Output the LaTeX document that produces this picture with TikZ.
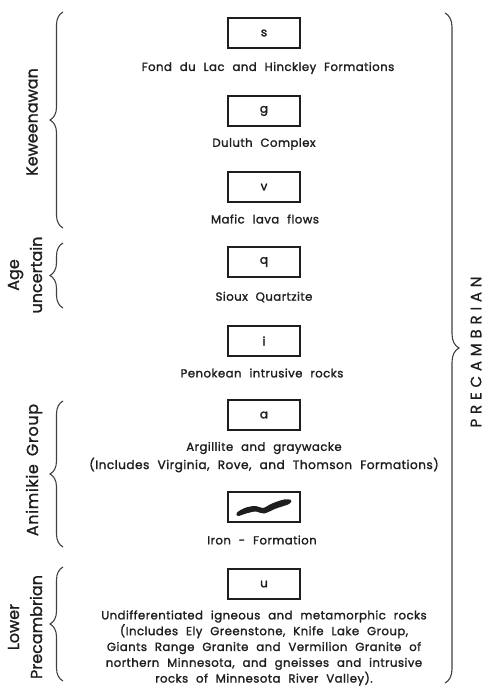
\documentclass[tikz,border=0pt]{standalone}
\usepackage{fontspec}
\setmainfont{Poppins}
\newfontfamily\lblfont[LetterSpace=4,WordSpace=2.2,FakeBold=1.6]{Poppins}
\newfontfamily\boxfont[FakeBold=2.2]{Poppins}
\newfontfamily\sidefont[FakeBold=1.2]{Poppins}
\newfontfamily\sidewide[FakeBold=1.2,LetterSpace=4]{Poppins}
\newfontfamily\preFont[LetterSpace=32,FakeBold=0.8]{Poppins}
\usetikzlibrary{decorations.pathreplacing}
\definecolor{ink}{HTML}{1E1E1E}
\begin{document}
\begin{tikzpicture}[x=1pt,y=-1pt,
  unitbox/.style={draw=ink,line width=1.3pt,minimum width=72pt,minimum height=30pt,inner sep=0pt,font=\boxfont\fontsize{12}{12}\selectfont,text=ink},
  lbl/.style={font=\lblfont\fontsize{11.7}{15.8}\selectfont,text=ink,align=center,inner sep=0pt},
  side/.style={font=\sidefont\fontsize{16}{23}\selectfont,text=ink,align=center,rotate=90,inner sep=0pt},
  brc/.style={draw=ink!85,line width=1.1pt,decorate,decoration={brace,amplitude=#1}},
  brc/.default=13pt]
\useasboundingbox (0,0) rectangle (489,687);
% boxes
\node[unitbox] (s) at (264,33) {s};
\node[lbl] (ls) at (268,68) {Fond du Lac and Hinckley Formations};
\node[unitbox] (g) at (264,111) {g};
\node[lbl] (lg) at (264,144) {Duluth Complex};
\node[unitbox] (v) at (264,187) {v};
\node[lbl] (lv) at (265,219) {Mafic lava flows};
\node[unitbox] (q) at (264,262) {q};
\node[lbl] (lq) at (264,297) {Sioux Quartzite};
\node[unitbox] (i) at (264,341) {i};
\node[lbl] (li) at (262,373) {Penokean intrusive rocks};
\node[unitbox] (a) at (264,415) {a};
\node[lbl] (la) at (264,448) {Argillite and graywacke};
\node[lbl,font=\lblfont\fontsize{12.1}{15.8}\selectfont] (la2) at (264,465) {(Includes Virginia, Rove, and Thomson Formations)};
\node[unitbox] (fe) at (264,507) {};
\fill[ink] plot[smooth cycle,tension=0.6] coordinates {(237,512.5) (246,507.5) (256,506) (263,508) (272,503.5) (284,499.5) (291,500) (289,504) (276,508.5) (264,513.5) (256,511.5) (246,513.5) (238,516)};
\node[lbl] (lfe) at (262,540) {Iron - Formation};
\node[unitbox] (u) at (264,584) {u};
\node[lbl] (lu) at (264,648) {Undifferentiated igneous and metamorphic rocks\\(Includes Ely Greenstone, Knife Lake Group,\\Giants Range Granite and Vermilion Granite of\\northern Minnesota, and gneisses and intrusive\\rocks of Minnesota River Valley).};
% left braces
\draw[brc] (63,228) -- (63,12);
\draw[brc] (63,308) -- (63,243);
\draw[brc] (63,547) -- (63,401);
\draw[brc] (63,681) -- (63,567);
\node[side] (kw) at (32,122) {Keweenawan};
\node[side] (au) at (25,275) {Age\\uncertain};
\node[side,font=\sidewide\fontsize{16}{23}\selectfont] (an) at (34,470) {Animikie\hspace{8pt}Group};
\node[side] (lp) at (25,627) {Lower\\Precambrian};
% right brace
\draw[brc=14pt] (445,13) -- (445,683);
\node[font=\preFont\fontsize{15}{17}\selectfont,text=ink,rotate=90,inner sep=0pt] (pc) at (476,352) {PRECAMBRIAN};
\end{tikzpicture}
\end{document}
